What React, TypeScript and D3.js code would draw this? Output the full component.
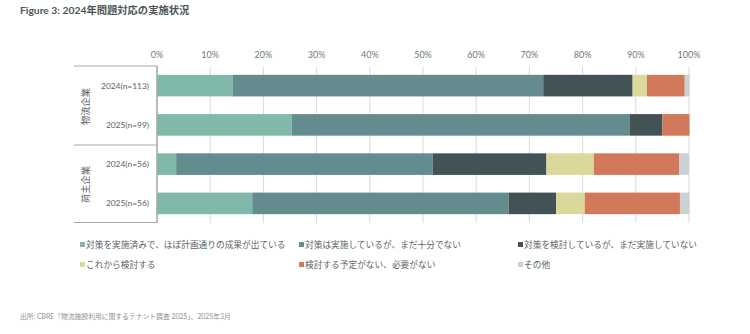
import React from "react";
import * as d3 from "d3";

const rowLabels = ["2024(n=113)", "2025(n=99)", "2024(n=56)", "2025(n=56)"];
const groupLabels = ["物流企業", "荷主企業"];
const seriesNames = [
  "対策を実施済みで、ほぼ計画通りの成果が出ている",
  "対策は実施しているが、まだ十分でない",
  "対策を検討しているが、まだ実施していない",
  "これから検討する",
  "検討する予定がない、必要がない",
  "その他",
];
const s1 = [14.2, 25.3, 3.6, 17.9];
const s2 = [58.4, 63.6, 48.2, 48.2];
const s3 = [16.8, 6.1, 21.4, 8.9];
const s4 = [2.7, 0, 8.9, 5.4];
const s5 = [7.1, 5.1, 16.1, 17.9];
const s6 = [0.9, 0, 1.8, 1.8];
const ticks = [0, 10, 20, 30, 40, 50, 60, 70, 80, 90, 100];
const colors = ["#80b9a9", "#648c8f", "#435254", "#dad99b", "#d2795b", "#cbd2d4"];

const FONT = "Lato, 'Noto Sans CJK JP', sans-serif";

export default function App() {
  const series = [s1, s2, s3, s4, s5, s6];
  const x = d3.scaleLinear().domain([0, 100]).range([157, 689]);
  const y = d3
    .scaleBand<string>()
    .domain(rowLabels)
    .range([66, 223])
    .paddingInner(0.45)
    .paddingOuter(0.225);
  const stacked = rowLabels.map((_, i) => {
    let acc = 0;
    return series.map((s) => {
      const start = acc;
      acc += s[i];
      return [start, acc];
    });
  });
  const legendCols = [80, 299, 518];
  const legendRows = [248, 268];
  return (
    <svg
      width={750}
      height={334}
      style={{ position: "absolute", left: 0, top: 0, background: "#fff" }}
      fontFamily={FONT}
    >
      <text x={20} y={14} fontSize={10.3} fontWeight={700} fill="#4b5558">
        Figure 3: 2024年問題対応の実施状況
      </text>
      {ticks.map((t) => (
        <g key={t}>
          <line x1={x(t)} x2={x(t)} y1={67} y2={223} stroke="#d6dbdc" strokeWidth={1} />
          <text x={x(t)} y={58} fontSize={9} textAnchor="middle" fill="#6e787b">
            {t}%
          </text>
        </g>
      ))}
      {stacked.map((segs, i) =>
        segs.map((seg, j) =>
          seg[1] - seg[0] > 0 ? (
            <rect
              key={`${i}-${j}`}
              x={x(seg[0])}
              y={y(rowLabels[i])}
              width={x(seg[1]) - x(seg[0])}
              height={y.bandwidth()}
              fill={colors[j]}
            />
          ) : null
        )
      )}
      <line x1={157} x2={157} y1={65.5} y2={223} stroke="#a3abad" strokeWidth={1.5} />
      {[66, 145, 222.5].map((yy) => (
        <line key={yy} x1={74} x2={157} y1={yy} y2={yy} stroke="#a3abad" strokeWidth={1.2} />
      ))}
      {rowLabels.map((r) => (
        <text
          key={r}
          x={149}
          y={(y(r) as number) + y.bandwidth() / 2 + 3}
          fontSize={8.4}
          textAnchor="end"
          fill="#5a6467"
        >
          {r}
        </text>
      ))}
      {groupLabels.map((g, i) => {
        const cy = i === 0 ? 106.5 : 184.5;
        return (
          <text
            key={g}
            transform={`translate(89,${cy}) rotate(-90)`}
            fontSize={9.3}
            textAnchor="middle"
            fill="#5a6467"
          >
            {g}
          </text>
        );
      })}
      {seriesNames.map((n, i) => {
        const lx = legendCols[i % 3];
        const ly = legendRows[Math.floor(i / 3)];
        return (
          <g key={n}>
            <rect x={lx} y={ly - 6} width={5} height={5} fill={colors[i]} />
            <text x={lx + 6} y={ly} fontSize={8.7} fill="#5a6467">
              {n}
            </text>
          </g>
        );
      })}
      <text x={20} y={319} fontSize={6.8} fill="#8a9294">
        出所: CBRE「物流施設利用に関するテナント調査 2025」、2025年3月
      </text>
    </svg>
  );
}
